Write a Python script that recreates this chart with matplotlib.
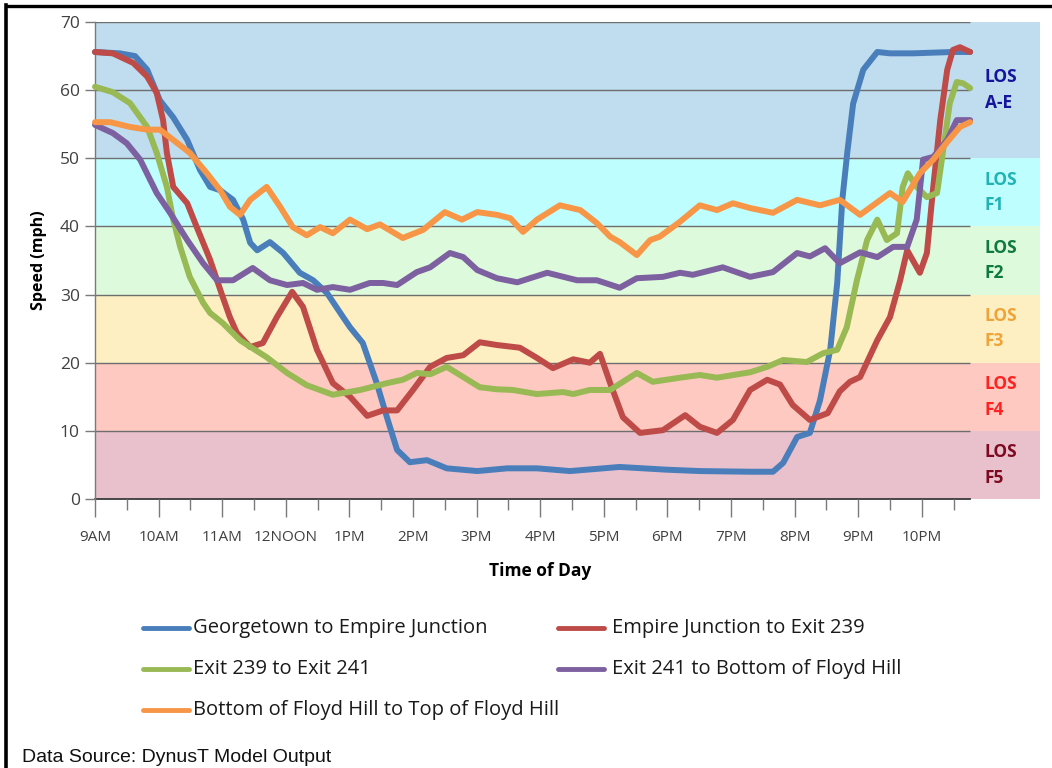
import matplotlib
matplotlib.use("Agg")
import matplotlib.pyplot as plt
from matplotlib.lines import Line2D

# time of day in decimal hours (9 = 9AM), speed in mph
blue_t = [9.00, 9.39, 9.63, 9.82, 10.02, 10.23, 10.45, 10.65, 10.81, 10.97, 11.17, 11.33,
          11.44, 11.55, 11.75, 11.96, 12.22, 12.43, 12.65, 12.90, 13.01, 13.21, 13.43, 13.59,
          13.75, 13.95, 14.22, 14.53, 15.01, 15.48, 15.95, 16.47, 17.25, 17.99, 18.51, 19.30,
          19.66, 19.82, 20.04, 20.24, 20.40, 20.56, 20.67, 20.75, 20.83, 20.92, 21.08, 21.30,
          21.50, 21.86, 22.49, 22.76]
blue_v = [65.6, 65.4, 65.0, 63.0, 58.5, 56.0, 52.7, 48.3, 45.8, 45.3, 43.9, 41.0,
          37.6, 36.5, 37.7, 36.1, 33.2, 32.1, 30.2, 26.7, 25.2, 22.9, 17.0, 12.0,
          7.2, 5.4, 5.7, 4.5, 4.1, 4.5, 4.5, 4.1, 4.7, 4.3, 4.1, 4.0,
          4.0, 5.3, 9.1, 9.7, 14.5, 21.9, 31.7, 43.9, 51.0, 58.0, 63.0, 65.6,
          65.4, 65.4, 65.6, 65.6]

red_t = [9.00, 9.28, 9.60, 9.82, 9.97, 10.07, 10.13, 10.23, 10.45, 10.60, 10.81, 11.01,
         11.12, 11.23, 11.44, 11.64, 11.86, 12.10, 12.27, 12.49, 12.74, 13.01, 13.28, 13.53,
         13.75, 14.00, 14.27, 14.53, 14.79, 15.05, 15.32, 15.68, 15.95, 16.20, 16.52, 16.78,
         16.94, 17.10, 17.30, 17.57, 17.93, 18.28, 18.51, 18.78, 19.03, 19.30, 19.57, 19.77,
         19.97, 20.24, 20.52, 20.71, 20.87, 21.03, 21.30, 21.50, 21.66, 21.77, 21.97, 22.08,
         22.18, 22.29, 22.40, 22.49, 22.60, 22.76]
red_v = [65.6, 65.4, 64.0, 62.0, 59.6, 55.6, 50.8, 45.8, 43.4, 39.9, 35.1, 29.6,
         26.7, 24.4, 22.3, 22.9, 26.7, 30.4, 28.2, 21.9, 17.0, 15.0, 12.2, 13.0,
         13.0, 16.0, 19.4, 20.7, 21.1, 23.0, 22.6, 22.2, 20.7, 19.2, 20.5, 20.0,
         21.3, 17.0, 12.0, 9.7, 10.1, 12.3, 10.6, 9.7, 11.6, 16.0, 17.5, 16.8,
         13.8, 11.6, 12.6, 15.8, 17.2, 17.9, 23.3, 26.7, 32.1, 36.5, 33.2, 36.1,
         45.8, 55.6, 63.0, 65.9, 66.3, 65.6]

green_t = [9.00, 9.28, 9.55, 9.82, 9.97, 10.13, 10.23, 10.34, 10.49, 10.70, 10.81, 11.01,
           11.28, 11.70, 12.02, 12.33, 12.74, 13.17, 13.59, 13.84, 14.06, 14.27, 14.53, 14.79,
           15.05, 15.32, 15.57, 15.95, 16.36, 16.52, 16.78, 17.10, 17.52, 17.77, 18.20, 18.51,
           18.78, 19.30, 19.57, 19.82, 20.19, 20.45, 20.67, 20.82, 20.98, 21.14, 21.30, 21.45,
           21.61, 21.70, 21.78, 21.92, 22.08, 22.24, 22.33, 22.44, 22.55, 22.65, 22.76]
green_v = [60.5, 59.7, 58.1, 54.6, 50.8, 45.8, 41.0, 37.0, 32.6, 28.8, 27.3, 25.8,
           23.3, 20.8, 18.5, 16.7, 15.3, 16.0, 17.0, 17.5, 18.5, 18.3, 19.4, 17.9,
           16.4, 16.1, 16.0, 15.4, 15.7, 15.4, 16.0, 16.0, 18.5, 17.2, 17.8, 18.2,
           17.8, 18.6, 19.4, 20.4, 20.1, 21.4, 21.9, 25.2, 32.1, 38.0, 41.0, 38.0,
           39.0, 45.8, 47.8, 45.8, 44.3, 44.9, 50.8, 58.1, 61.2, 61.0, 60.3]

purple_t = [9.00, 9.28, 9.50, 9.71, 9.97, 10.18, 10.45, 10.70, 10.92, 11.17, 11.48, 11.75,
            12.02, 12.27, 12.49, 12.74, 13.01, 13.32, 13.53, 13.75, 14.06, 14.27, 14.58, 14.79,
            15.01, 15.32, 15.64, 16.11, 16.58, 16.89, 17.25, 17.52, 17.93, 18.20, 18.40, 18.87,
            19.30, 19.66, 20.04, 20.24, 20.48, 20.71, 20.87, 21.03, 21.30, 21.55, 21.77, 21.92,
            22.02, 22.18, 22.40, 22.55, 22.76]
purple_v = [54.9, 53.7, 52.2, 49.8, 44.9, 42.0, 38.0, 34.6, 32.1, 32.1, 33.9, 32.1,
            31.4, 31.7, 30.7, 31.1, 30.7, 31.7, 31.7, 31.4, 33.3, 34.0, 36.1, 35.5,
            33.6, 32.4, 31.8, 33.2, 32.1, 32.1, 31.0, 32.4, 32.6, 33.2, 32.9, 34.0,
            32.6, 33.3, 36.1, 35.6, 36.8, 34.6, 35.4, 36.2, 35.5, 37.0, 37.0, 41.0,
            49.8, 50.2, 52.7, 55.6, 55.6]

orange_t = [9.00, 9.24, 9.55, 9.82, 10.02, 10.23, 10.49, 10.76, 10.97, 11.12, 11.28, 11.44,
            11.70, 11.91, 12.11, 12.33, 12.54, 12.74, 13.01, 13.28, 13.48, 13.84, 14.16, 14.50,
            14.77, 15.01, 15.32, 15.53, 15.73, 15.95, 16.31, 16.63, 16.89, 17.10, 17.25, 17.52,
            17.73, 17.88, 18.20, 18.51, 18.78, 19.03, 19.30, 19.66, 20.04, 20.40, 20.71, 21.03,
            21.50, 21.70, 21.97, 22.18, 22.40, 22.60, 22.76]
orange_v = [55.3, 55.3, 54.6, 54.2, 54.2, 52.7, 50.8, 47.8, 45.3, 42.9, 41.7, 43.9,
            45.8, 42.9, 39.9, 38.7, 39.9, 39.0, 41.0, 39.6, 40.3, 38.3, 39.5, 42.1,
            41.0, 42.1, 41.7, 41.2, 39.2, 41.0, 43.1, 42.4, 40.5, 38.5, 37.7, 35.8,
            38.0, 38.5, 40.7, 43.1, 42.4, 43.4, 42.7, 42.0, 43.9, 43.1, 43.9, 41.7,
            44.9, 43.6, 47.8, 49.8, 52.4, 54.6, 55.3]

series_names = ["Georgetown to Empire Junction", "Empire Junction to Exit 239",
                "Exit 239 to Exit 241", "Exit 241 to Bottom of Floyd Hill",
                "Bottom of Floyd Hill to Top of Floyd Hill"]
series_colors = ["#4A7EBB", "#BE4B48", "#98B954", "#7D60A0", "#F79646"]

# level-of-service bands
los_edges = [(50, 70), (40, 50), (30, 40), (20, 30), (10, 20), (0, 10)]
los_names = ["LOS\nA-E", "LOS\nF1", "LOS\nF2", "LOS\nF3", "LOS\nF4", "LOS\nF5"]
los_fill = ["#BFDDEE", "#BFFEFF", "#DEFADC", "#FDEFC2", "#FDC9C1", "#E8C1CD"]
los_text = ["#14149C", "#21B2B4", "#0F7A3E", "#EFA43A", "#FF2222", "#7E0A22"]

hour_ticks = list(range(9, 23))
hour_labels = ["9AM", "10AM", "11AM", "12NOON", "1PM", "2PM", "3PM", "4PM",
               "5PM", "6PM", "7PM", "8PM", "9PM", "10PM"]
t_end = 22.76

plt.rcParams["font.family"] = ["Open Sans", "DejaVu Sans"]

W, H = 1052, 768
fig = plt.figure(figsize=(W / 100, H / 100), dpi=100)
ax = fig.add_axes([95 / W, 1 - 499 / H, (1040 - 95) / W, 477 / H])
ax.set_xlim(9, 9 + (1040 - 95) / 63.6)
ax.set_ylim(0, 70)

for (lo, hi), fc in zip(los_edges, los_fill):
    ax.axhspan(lo, hi, color=fc, lw=0, zorder=0)
ax.hlines(range(10, 71, 10), 9, t_end, color="#6E6E6E", lw=1.0, zorder=1)
ax.plot([9, t_end], [0, 0], color="#3A3A3A", lw=1.3, zorder=1, clip_on=False)

for (lo, hi), name, tc in zip(los_edges, los_names, los_text):
    ax.text(22.99, (lo + hi) / 2, name, color=tc, fontsize=12.5, fontweight="bold",
            ha="left", va="center", linespacing=1.55)

all_t = [blue_t, red_t, green_t, purple_t, orange_t]
all_v = [blue_v, red_v, green_v, purple_v, orange_v]
for t, v, c in zip(all_t, all_v, series_colors):
    ax.plot(t, v, color=c, lw=4.3, solid_joinstyle="round", solid_capstyle="round",
            zorder=3, clip_on=False)

for side in ("top", "right", "bottom"):
    ax.spines[side].set_visible(False)
ax.spines["left"].set_color("#7A7A7A")
ax.spines["left"].set_linewidth(1.0)

ax.set_xticks(hour_ticks)
ax.set_xticklabels(hour_labels)
ax.set_xticks([h + 0.5 for h in hour_ticks], minor=True)
ax.tick_params(axis="x", which="major", length=13, width=1.0, color="#7A7A7A",
               labelsize=11, labelcolor="#404040", pad=9)
ax.tick_params(axis="x", which="minor", length=8, width=1.0, color="#7A7A7A")
ax.set_yticks(range(0, 71, 10))
ax.tick_params(axis="y", length=7, width=1.0, color="#7A7A7A",
               labelsize=12.5, labelcolor="#404040", pad=4)

ax.set_ylabel("Speed (mph)", fontsize=11.5, fontweight="bold", labelpad=9)
fig.text(540 / W, 1 - 571 / H, "Time of Day", fontsize=12.5, fontweight="bold",
         ha="center", va="center")

# legend, two columns: (line start, text start, row y) in pixels
legend_pos = [(143, 193, 628), (558, 612, 628), (143, 193, 669), (558, 612, 669),
              (143, 193, 710)]
for (lx, tx, py), name, c in zip(legend_pos, series_names, series_colors):
    fy = 1 - py / H
    fig.add_artist(Line2D([lx / W, (lx + 46) / W], [fy, fy], color=c, lw=3.5,
                          solid_capstyle="round", transform=fig.transFigure))
    fig.text(tx / W, fy, name, fontsize=14.5, ha="left", va="center",
             color="#1A1A1A")

fig.text(22 / W, 1 - 757 / H, "Data Source: DynusT Model Output", fontsize=14,
         family=["Liberation Sans Narrow", "Liberation Sans", "DejaVu Sans"],
         ha="left", va="center", color="#111111")

# page frame
fig.add_artist(Line2D([8 / W, 1.0], [1 - 6 / H, 1 - 6 / H], color="black", lw=2.4,
                      transform=fig.transFigure))
fig.add_artist(Line2D([6 / W, 6 / W], [0, 1 - 5 / H], color="black", lw=2.6,
                      transform=fig.transFigure))

fig.savefig("out.png", dpi=100)
